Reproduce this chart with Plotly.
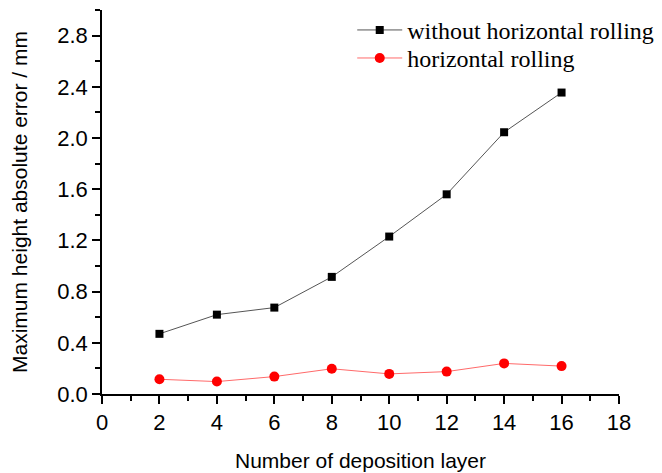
import plotly.graph_objects as go

layers = [2, 4, 6, 8, 10, 12, 14, 16]
without_rolling = [0.47, 0.62, 0.675, 0.915, 1.23, 1.56, 2.045, 2.355]
with_rolling = [0.115, 0.097, 0.136, 0.197, 0.157, 0.175, 0.239, 0.218]

fig = go.Figure()
fig.add_trace(go.Scatter(
    x=layers, y=without_rolling, mode="lines+markers",
    name="without horizontal rolling",
    line=dict(color="#555555", width=1),
    marker=dict(symbol="square", size=8, color="black"),
    legend="legend",
))
fig.add_trace(go.Scatter(
    x=layers, y=with_rolling, mode="lines+markers",
    name="horizontal rolling",
    line=dict(color="#ff6a6a", width=1),
    marker=dict(symbol="circle", size=10, color="#ff0000"),
    legend="legend2",
))

axis_font = dict(family="Liberation Sans, Arial", size=21, color="black")
tick_font = dict(family="Liberation Sans, Arial", size=22, color="black")
legend_font = dict(family="Liberation Serif, Times New Roman", size=24, color="black")
legend_common = dict(
    xanchor="left", yanchor="middle",
    bgcolor="rgba(0,0,0,0)", borderwidth=0,
    itemwidth=45, font=legend_font,
)
fig.update_layout(
    width=662, height=473,
    margin=dict(l=102, r=43, t=10, b=79, autoexpand=False),
    paper_bgcolor="white", plot_bgcolor="white",
    font=axis_font,
    showlegend=True,
    legend=dict(x=0.484, y=0.947, **legend_common),
    legend2=dict(x=0.484, y=0.874, **legend_common),
    xaxis=dict(
        range=[0, 18], dtick=2, tick0=0, automargin=False,
        showline=True, linecolor="black", linewidth=1.5,
        ticks="outside", ticklen=8, tickwidth=1.5, tickcolor="black",
        minor=dict(dtick=1, ticks="outside", ticklen=5, tickwidth=1.5, tickcolor="black"),
        showgrid=False, zeroline=False,
        tickfont=tick_font,
        title=dict(text="Number of deposition layer", font=axis_font, standoff=19),
    ),
    yaxis=dict(
        range=[0, 3.0], dtick=0.4, tick0=0, tickformat=".1f", automargin=False,
        showline=True, linecolor="black", linewidth=1.5,
        ticks="outside", ticklen=8, tickwidth=1.5, tickcolor="black",
        minor=dict(dtick=0.2, ticks="outside", ticklen=5, tickwidth=1.5, tickcolor="black"),
        showgrid=False, zeroline=False,
        tickfont=tick_font,
        title=dict(text="Maximum height absolute error / mm", font=axis_font, standoff=24),
    ),
)
fig.write_html("out.html")
